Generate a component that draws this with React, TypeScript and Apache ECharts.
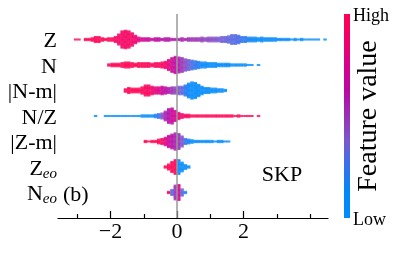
import React, { useEffect, useRef } from 'react';
import * as echarts from 'echarts';

// ---------- data ----------
const AXIS_LABELS = ['Z', 'N', '|N-m|', 'N/Z', '|Z-m|', 'Z{sub|eo}', 'N{sub|eo}'];
const X_TICKS_MAJOR = [-2, 0, 2];
const X_TICKS_MINOR = [-3, -1, 1, 3, 4];
const X_MIN = -3.58;
const X_MAX = 4.54;
const BIN = 0.1; // SHAP-value bin width of each column of dots

// Z
const zStart = -3.05;
const zCount = [1, 1, 0, 2, 2, 3, 5, 5, 3, 2, 3, 3, 5, 9, 14, 15, 14, 11, 7, 4,
  3, 3, 3, 2, 3, 3, 2, 3, 3, 2, 2, 2, 3, 2, 3, 3, 3, 3, 4, 3,
  4, 4, 4, 4, 5, 5, 6, 8, 8, 7, 5, 5, 4, 4, 4, 3, 4, 3, 3, 3,
  3, 2, 2, 2, 2, 1, 2, 1, 2, 1, 1, 1, 1, 1, 0, 1];
const zFeat = [1, 1, 1, 1, 1, 1, 1, 1, 1, 1, 1, 1, 0.92, 0.92, 0.92, 0.92, 0.92, 0.92, 0.85, 0.8,
  0.75, 0.7, 0.7, 0.68, 0.66, 0.65, 0.63, 0.6, 0.6, 0.58, 0.57, 0.56, 0.55, 0.55, 0.53, 0.52, 0.5, 0.48, 0.47, 0.45,
  0.44, 0.42, 0.4, 0.38, 0.36, 0.34, 0.32, 0.3, 0.3, 0.28, 0.24, 0.2, 0.18, 0.15, 0.13, 0.12, 0.1, 0.08, 0.08, 0.06,
  0.05, 0.04, 0.03, 0.03, 0.02, 0.02, 0.02, 0.01, 0.01, 0, 0, 0, 0, 0, 0, 0];

// N
const nStart = -2.05;
const nCount = [2, 3, 3, 3, 4, 5, 5, 4, 3, 4, 4, 4, 4, 3, 4, 4, 5, 6, 9, 12,
  14, 13, 12, 10, 9, 8, 7, 6, 5, 5, 4, 4, 4, 3, 3, 3, 3, 2, 2, 2,
  2, 2, 1, 1, 0, 1];
const nFeat = [1, 1, 1, 1, 1, 1, 1, 1, 1, 1, 1, 0.98, 0.97, 0.97, 0.96, 0.95, 0.93, 0.9, 0.8, 0.72,
  0.65, 0.58, 0.5, 0.42, 0.35, 0.28, 0.22, 0.18, 0.14, 0.1, 0.08, 0.07, 0.06, 0.05, 0.04, 0.03, 0.03, 0.02, 0.02, 0.01,
  0.01, 0, 0, 0, 0, 0];

// |N-m|
const nmStart = -1.55;
const nmCount = [3, 5, 4, 4, 4, 6, 9, 9, 7, 6, 6, 7, 6, 5, 6, 6, 7, 7, 9, 12,
  14, 13, 10, 7, 5, 5, 4, 4, 3, 3, 2];
const nmFeat = [1, 1, 1, 1, 1, 0.98, 0.96, 0.93, 0.88, 0.82, 0.76, 0.7, 0.64, 0.58, 0.52, 0.46, 0.4, 0.32, 0.22, 0.14,
  0.08, 0.06, 0.05, 0.04, 0.03, 0.03, 0.02, 0.02, 0.01, 0.01, 0];

// N/Z
const nzStart = -2.45;
const nzCount = [1, 0, 0, 1, 1, 1, 1, 1, 1, 1, 1, 1, 1, 1, 2, 2, 2, 2, 3, 4,
  5, 8, 12, 13, 9, 6, 4, 3, 3, 2, 2, 2, 2, 2, 2, 2, 2, 2, 2, 2,
  2, 2, 1, 2, 1, 1, 1, 1, 0, 1];
const nzFeat = [0, 0, 0, 0, 0, 0, 0, 0, 0, 0, 0, 0, 0.02, 0.03, 0.04, 0.05, 0.08, 0.1, 0.15, 0.25,
  0.4, 0.55, 0.62, 0.68, 0.75, 0.82, 0.88, 0.92, 0.95, 0.97, 1, 1, 1, 1, 1, 1, 1, 1, 1, 1,
  1, 1, 1, 1, 1, 1, 1, 1, 1, 1];

// |Z-m|
const zmStart = -0.95;
const zmCount = [2, 1, 2, 2, 4, 5, 7, 10, 12, 14, 13, 9, 5, 4, 3, 2, 2, 2, 2, 2,
  2, 1, 2, 2, 1, 1];
const zmFeat = [1, 1, 1, 1, 1, 0.92, 0.8, 0.68, 0.62, 0.56, 0.5, 0.4, 0.25, 0.15, 0.1, 0.06, 0.04, 0.03, 0.02, 0.02,
  0.01, 0, 0, 0, 0, 0];

// Z_eo
const zeoStart = -0.35;
const zeoCount = [2, 5, 9, 12, 12, 8, 4, 2];
const zeoFeat = [1, 1, 1, 0.97, 0.03, 0, 0, 0];

// N_eo
const neoStart = -0.25;
const neoCount = [2, 5, 12, 13, 6, 2];
const neoFeat = [1, 0.3, 0.5, 0.75, 0.35, 0.05];

// colour map, low -> high feature value
const COLORS = ['#008bfb', '#0088f8', '#3570ee', '#7858d0', '#9a30b4', '#b808a6', '#d8008c', '#f00068', '#ff0052'];

// ---------- layout constants ----------
const FONT = '"Liberation Serif", "Times New Roman", serif';
const PLOT_H = 204;
const Y_SPAN = 8;
const STEP_PX = 1.25;
const STEP_Y = (STEP_PX * Y_SPAN) / PLOT_H;

const ROWS = [
  { start: zStart, count: zCount, feat: zFeat },
  { start: nStart, count: nCount, feat: nFeat },
  { start: nmStart, count: nmCount, feat: nmFeat },
  { start: nzStart, count: nzCount, feat: nzFeat },
  { start: zmStart, count: zmCount, feat: zmFeat },
  { start: zeoStart, count: zeoCount, feat: zeoFeat },
  { start: neoStart, count: neoCount, feat: neoFeat },
];

function buildDots() {
  const dots: number[][] = [];
  ROWS.forEach((row, r) => {
    row.count.forEach((n, i) => {
      const x = +(row.start + i * BIN).toFixed(3);
      for (let k = 0; k < n; k++) {
        dots.push([x, r + (k - (n - 1) / 2) * STEP_Y, row.feat[i]]);
      }
    });
  });
  return dots;
}

const fmtX = (v: number) => (v < 0 ? '\u2212' + Math.abs(v) : String(v));

export default function App() {
  const ref = useRef<HTMLDivElement>(null);
  useEffect(() => {
    if (!ref.current) return;
    const chart = echarts.init(ref.current, null, { renderer: 'svg' });
    const gradStops = COLORS.map((c, i) => ({ offset: 1 - i / (COLORS.length - 1), color: c })).reverse();
    chart.setOption({
      animation: false,
      grid: { left: 58, right: 67, top: 14, bottom: 62, containLabel: false },
      xAxis: [
        {
          type: 'value', min: X_MIN, max: X_MAX, position: 'bottom',
          axisLine: { show: true, onZero: false, lineStyle: { color: '#000', width: 1.2 } },
          axisTick: { show: true, inside: true, length: 7, customValues: X_TICKS_MAJOR, lineStyle: { color: '#000', width: 1.2 } },
          axisLabel: { customValues: X_TICKS_MAJOR, formatter: fmtX, fontFamily: FONT, fontSize: 22, color: '#000', margin: 1 },
          splitLine: { show: false },
        },
        {
          type: 'value', min: X_MIN, max: X_MAX, position: 'bottom',
          axisLine: { show: false, onZero: false },
          axisTick: { show: true, inside: true, length: 4, customValues: X_TICKS_MINOR, lineStyle: { color: '#000', width: 1.2 } },
          axisLabel: { show: false },
          splitLine: { show: false },
        },
      ],
      yAxis: {
        type: 'value', min: -1, max: 7, inverse: true,
        axisLine: { show: false }, axisTick: { show: false }, splitLine: { show: false },
        axisLabel: {
          customValues: [0, 1, 2, 3, 4, 5, 6],
          formatter: (v: number) => AXIS_LABELS[Math.round(v)] ?? '',
          fontFamily: FONT, fontSize: 22, color: '#000', margin: 1,
          rich: {
            sub: { fontFamily: FONT, fontSize: 15, fontStyle: 'italic', color: '#000', padding: [11, 0, 0, 0] },
          },
        },
      },
      visualMap: {
        type: 'continuous', show: false, dimension: 2, min: 0, max: 1, seriesIndex: 0,
        inRange: { color: COLORS },
      },
      series: [
        {
          type: 'scatter', data: buildDots(), symbol: 'rect', symbolSize: [3.5, 2.1],
          silent: true, progressive: 0, z: 2,
        },
        {
          type: 'scatter', data: [], z: 3, silent: true,
          markLine: {
            silent: true, symbol: ['none', 'none'], label: { show: false },
            lineStyle: { color: '#999', width: 1.5, type: 'solid' },
            data: [{ xAxis: 0 }],
          },
        },
      ],
      graphic: [
        { type: 'rect', shape: { x: 344, y: 14, width: 6, height: 204 }, style: { fill: new echarts.graphic.LinearGradient(0, 0, 0, 1, gradStops) } },
        { type: 'text', x: 353, y: 15, style: { text: 'High', fontFamily: FONT, fontSize: 18, fill: '#000', align: 'left', verticalAlign: 'middle' } },
        { type: 'text', x: 353, y: 219, style: { text: 'Low', fontFamily: FONT, fontSize: 18, fill: '#000', align: 'left', verticalAlign: 'middle' } },
        { type: 'text', x: 366, y: 116, rotation: Math.PI / 2, style: { text: 'Feature value', fontFamily: FONT, fontSize: 28, fill: '#000', align: 'center', verticalAlign: 'middle' } },
        { type: 'text', x: 282, y: 173, style: { text: 'SKP', fontFamily: FONT, fontSize: 22, fill: '#000', align: 'center', verticalAlign: 'middle' } },
        { type: 'text', x: 63, y: 193, style: { text: '(b)', fontFamily: FONT, fontSize: 22, fill: '#000', align: 'left', verticalAlign: 'middle' } },
      ],
    });
    return () => chart.dispose();
  }, []);
  return <div ref={ref} style={{ position: 'fixed', left: 0, top: 0, width: 395, height: 280 }} />;
}
